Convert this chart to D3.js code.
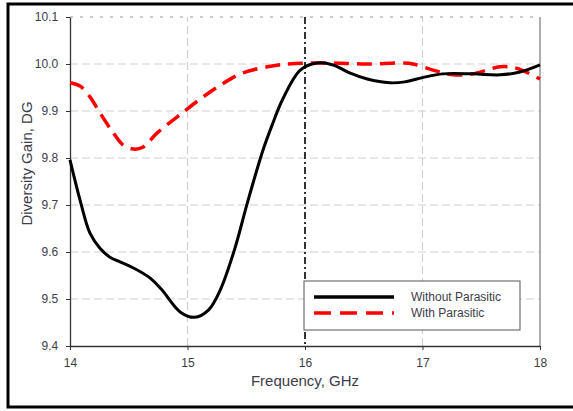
<!DOCTYPE html>
<html>
<head>
<meta charset="utf-8">
<script src="https://cdn.jsdelivr.net/npm/d3@7"></script>
<style>
  body { margin: 0; background: #fff; }
  svg { display: block; font-family: "Liberation Sans", Arial, sans-serif; }
</style>
</head>
<body>
<div id="chart"></div>
<script>
// frequency (GHz) and diversity gain
const freqNoPar = [14.0, 14.085, 14.17, 14.255, 14.34, 14.425, 14.54, 14.68, 14.78, 14.94, 15.06, 15.18, 15.28, 15.40, 15.51, 15.64, 15.72, 15.81, 15.96, 16.1, 16.24, 16.38, 16.53, 16.72, 16.85, 17.0, 17.17, 17.43, 17.66, 17.83, 18.0];
const dgNoPar   = [9.796, 9.711, 9.64, 9.608, 9.589, 9.579, 9.566, 9.545, 9.52, 9.472, 9.461, 9.477, 9.52, 9.605, 9.705, 9.815, 9.87, 9.925, 9.987, 10.002, 9.998, 9.981, 9.968, 9.96, 9.962, 9.971, 9.979, 9.979, 9.977, 9.983, 9.998];

const freqPar = [14.0, 14.085, 14.17, 14.255, 14.37, 14.45, 14.54, 14.62, 14.74, 14.91, 15.106, 15.28, 15.47, 15.68, 15.85, 16.02, 16.24, 16.53, 16.81, 16.92, 17.09, 17.26, 17.43, 17.66, 17.80, 18.0];
const dgPar   = [9.96, 9.953, 9.93, 9.896, 9.853, 9.828, 9.819, 9.823, 9.853, 9.887, 9.925, 9.955, 9.981, 9.994, 10.0, 10.002, 10.002, 10.0, 10.002, 10.0, 9.987, 9.977, 9.979, 9.994, 9.991, 9.968];

const xTicks = [14, 15, 16, 17, 18];
const yTicks = [9.4, 9.5, 9.6, 9.7, 9.8, 9.9, 10.0, 10.1];
const seriesNames = ["Without Parasitic", "With Parasitic"];
const markerFreq = 16;

const width = 573, height = 411;
const margin = { top: 17, right: 33, bottom: 65, left: 70 };

const svg = d3.select("#chart").append("svg")
  .attr("width", width).attr("height", height);

// outer frame
svg.append("rect")
  .attr("x", 8).attr("y", 4).attr("width", 580).attr("height", 403)
  .attr("fill", "none").attr("stroke", "#000").attr("stroke-width", 3);

const x = d3.scaleLinear().domain([14, 18]).range([margin.left, width - margin.right]);
const y = d3.scaleLinear().domain([9.4, 10.1]).range([height - margin.bottom, margin.top]);

// grid
svg.append("g").selectAll("line")
  .data(yTicks.filter(d => d > 9.4 && d < 10.1))
  .join("line")
    .attr("x1", x(14)).attr("x2", x(18))
    .attr("y1", d => y(d)).attr("y2", d => y(d))
    .attr("stroke", "#cfcfcf").attr("stroke-width", 1.2)
    .attr("stroke-dasharray", "8,4");
svg.append("g").selectAll("line")
  .data(xTicks.filter(d => d > 14 && d < 18 && d !== markerFreq))
  .join("line")
    .attr("x1", d => x(d)).attr("x2", d => x(d))
    .attr("y1", y(9.4)).attr("y2", y(10.1))
    .attr("stroke", "#cfcfcf").attr("stroke-width", 1.2)
    .attr("stroke-dasharray", "8,4");

// top dotted border and right border
svg.append("line")
  .attr("x1", x(14)).attr("x2", x(18)).attr("y1", y(10.1)).attr("y2", y(10.1))
  .attr("stroke", "#999").attr("stroke-width", 1.2).attr("stroke-dasharray", "3,7");
svg.append("line")
  .attr("x1", x(18)).attr("x2", x(18)).attr("y1", y(10.1)).attr("y2", y(9.4))
  .attr("stroke", "#777").attr("stroke-width", 1.2);

// axes
const xAxis = svg.append("g")
  .attr("transform", `translate(0,${y(9.4)})`)
  .call(d3.axisBottom(x).tickValues(xTicks).tickFormat(d3.format("d")).tickSize(4).tickSizeOuter(0));
const yAxis = svg.append("g")
  .attr("transform", `translate(${x(14)},0)`)
  .call(d3.axisLeft(y).tickValues(yTicks).tickFormat(d3.format(".1f")).tickSize(4).tickSizeOuter(0));
[xAxis, yAxis].forEach(g => {
  g.select(".domain").attr("stroke", "#333").attr("stroke-width", 1.3);
  g.selectAll(".tick line").attr("stroke", "#333");
  g.selectAll("text").attr("fill", "#3c3c4a").attr("font-size", 12)
    .attr("font-family", "'Liberation Sans', Arial, sans-serif");
});
xAxis.selectAll("text").attr("dy", "1.15em");
yAxis.selectAll("text").attr("dx", "-0.4em");

// marker line at 16 GHz
svg.append("line")
  .attr("x1", x(markerFreq)).attr("x2", x(markerFreq))
  .attr("y1", y(10.1)).attr("y2", y(9.4))
  .attr("stroke", "#000").attr("stroke-width", 1.6)
  .attr("stroke-dasharray", "7,3,2,3");

const line = d3.line().curve(d3.curveCatmullRom.alpha(0.5));

svg.append("path")
  .attr("d", line(freqPar.map((f, i) => [x(f), y(dgPar[i])])))
  .attr("fill", "none").attr("stroke", "#ff0000").attr("stroke-width", 3.5)
  .attr("stroke-dasharray", "15,8");

svg.append("path")
  .attr("d", line(freqNoPar.map((f, i) => [x(f), y(dgNoPar[i])])))
  .attr("fill", "none").attr("stroke", "#000").attr("stroke-width", 3);

// legend
const lg = svg.append("g").attr("transform", "translate(304,281)");
lg.append("rect").attr("width", 216).attr("height", 49)
  .attr("fill", "#fff").attr("stroke", "#555").attr("stroke-width", 1);
const styles = [
  { stroke: "#000", dash: null, w: 3.5 },
  { stroke: "#ff0000", dash: "17,9", w: 3.5 }
];
seriesNames.forEach((name, i) => {
  const yy = 16 + i * 16;
  lg.append("line").attr("x1", 10).attr("x2", 90).attr("y1", yy).attr("y2", yy)
    .attr("stroke", styles[i].stroke).attr("stroke-width", styles[i].w)
    .attr("stroke-dasharray", styles[i].dash);
  lg.append("text").attr("x", 107).attr("y", yy).attr("dy", "0.35em")
    .attr("font-size", 12).attr("fill", "#3c3c4a").text(name);
});

// axis titles
svg.append("text")
  .attr("x", x(16)).attr("y", 386).attr("text-anchor", "middle")
  .attr("font-size", 15).attr("fill", "#3c3c4a").text("Frequency, GHz");
svg.append("text")
  .attr("transform", `translate(32,${(y(9.4) + y(10.1)) / 2 - 18}) rotate(-90)`)
  .attr("text-anchor", "middle")
  .attr("font-size", 15).attr("fill", "#3c3c4a").text("Diversity Gain, DG");
</script>
</body>
</html>
